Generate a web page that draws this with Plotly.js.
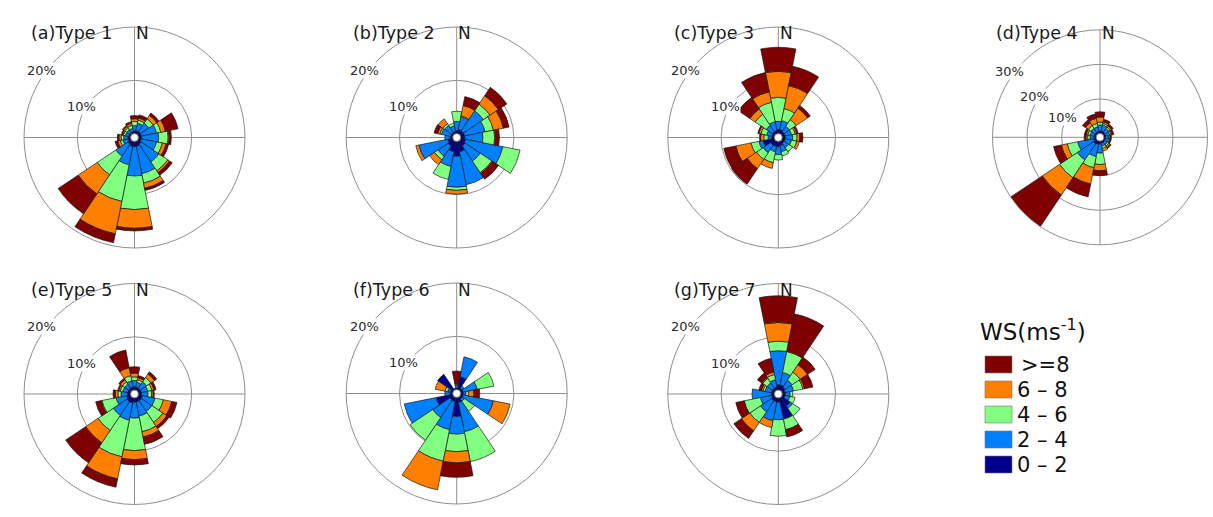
<!DOCTYPE html>
<html><head><meta charset="utf-8">
<script src="https://cdn.plot.ly/plotly-3.0.1.min.js"></script>
<style>html,body{margin:0;padding:0;background:#fff;overflow:hidden;}</style>
</head><body>
<div id="chart" style="width:1213px;height:517px;"></div>
<script>
// ---------------- DATA ----------------
const directions = ["N","NNE","NE","ENE","E","ESE","SE","SSE","S","SSW","SW","WSW","W","WNW","NW","NNW"];
const speedClasses = ["0 – 2","2 – 4","4 – 6","6 – 8",">=8"];
const panelTitles = ["(a)Type 1","(b)Type 2","(c)Type 3","(d)Type 4","(e)Type 5","(f)Type 6","(g)Type 7"];
const legendTitle = "WS(ms<sup>-1</sup>)";

// Cumulative frequency (%) at the top of each speed class, one row per direction
// columns: 0-2, 2-4, 4-6, 6-8, >=8
const type1Cum = [
  [0.5,1.5,2.3,2.8,3.4],[0.5,2.0,2.6,3.0,3.6],[0.6,2.5,3.5,4.3,4.8],[0.6,3.5,4.3,5.2,7.6],
  [0.6,3.8,5.6,5.8,6.2],[0.6,3.5,4.6,5.3,5.8],[0.8,4.8,6.8,7.2,7.8],[1.0,6.2,8.0,9.0,9.4],
  [1.0,6.5,12.8,16.3,16.8],[1.0,4.5,11.5,17.7,19.4],[0.8,3.5,7.7,12.0,16.5],[0.5,1.5,2.0,2.5,3.0],
  [0.5,1.3,1.8,2.2,2.5],[0.4,1.0,1.4,1.6,1.8],[0.4,1.0,1.5,1.8,2.0],[0.4,1.0,1.6,2.0,2.3]];
const type2Cum = [
  [0.6,2.3,4.2,4.2,4.2],[0.8,3.2,3.4,5.4,7.1],[0.8,5.3,6.8,8.7,10.6],[0.8,4.7,6.3,8.2,9.3],
  [0.8,4.2,6.4,6.6,7.3],[1.0,8.1,11.4,11.4,11.4],[1.2,4.6,7.2,7.4,8.7],[2.0,8.3,8.3,8.3,8.3],
  [2.8,8.6,9.2,9.9,9.9],[2.0,4.8,7.3,7.3,7.3],[1.2,3.5,4.3,5.4,5.4],[1.0,6.5,6.5,7.1,7.1],
  [0.5,1.5,1.5,1.5,1.5],[0.4,2.2,2.5,2.9,3.6],[0.4,2.0,2.4,3.5,3.5],[0.4,1.5,2.0,2.0,2.0]];
const type3Cum = [
  [0.8,2.3,6.8,11.7,16.2],[0.8,2.5,4.8,9.2,12.9],[0.6,1.8,3.3,5.9,6.5],[0.6,1.8,2.5,2.8,3.1],
  [0.6,2.0,2.8,3.3,3.9],[0.6,1.8,2.8,3.3,3.3],[0.6,1.6,2.5,2.5,2.5],[0.8,2.0,2.8,2.8,2.8],
  [1.0,2.5,3.5,3.5,3.5],[1.0,2.0,4.1,5.2,5.2],[1.0,2.7,4.2,6.3,9.8],[2.2,3.0,4.5,7.4,9.7],
  [0.5,1.2,2.0,2.6,2.8],[0.5,1.5,2.6,3.0,3.2],[0.6,2.0,4.5,5.7,8.3],[0.6,2.3,6.0,8.0,11.7]];
const type4Cum = [
  [0.8,2.5,3.3,4.8,6.3],[0.8,2.5,3.0,3.5,4.2],[0.6,2.0,2.5,3.0,3.5],[0.6,1.8,2.2,2.5,3.0],
  [0.5,1.5,1.8,2.0,2.2],[0.5,1.5,1.8,2.0,2.2],[0.6,1.5,2.0,2.5,2.8],[0.6,1.5,2.2,3.0,3.0],
  [0.8,3.5,6.8,8.6,10.0],[1.0,4.6,7.9,12.7,16.5],[1.2,6.8,13.0,19.0,30.0],[0.8,5.5,8.6,10.3,12.6],
  [0.6,1.8,2.5,3.0,3.5],[0.6,1.8,2.5,3.0,3.5],[0.6,2.0,3.0,4.0,5.0],[0.6,2.0,3.0,4.5,5.8]];
const type5Cum = [
  [0.6,1.8,2.5,3.2,4.4],[0.6,1.5,2.0,2.4,2.8],[0.6,2.0,3.0,3.8,4.3],[0.6,1.8,2.6,3.0,3.4],
  [0.6,1.8,2.5,2.8,3.0],[0.8,3.2,4.8,6.4,7.4],[0.8,3.2,5.7,6.6,7.1],[0.8,3.5,6.5,7.5,8.9],
  [0.8,3.8,9.9,11.6,12.6],[1.0,4.3,11.3,15.5,17.1],[1.0,4.1,7.5,10.3,14.8],[0.8,2.8,5.5,5.7,6.7],
  [0.6,1.8,2.4,2.9,3.3],[0.6,1.5,2.0,2.3,2.5],[0.6,1.5,2.0,2.5,2.8],[0.6,1.8,2.8,4.3,7.7]];
const type6Cum = [
  [0.3,0.8,1.0,1.2,3.5],[2.5,6.3,6.3,6.3,6.3],[0.5,1.0,1.0,1.0,1.0],[0.5,3.2,6.4,6.4,6.4],
  [0.5,1.0,1.5,2.5,3.6],[0.5,6.3,6.3,9.5,9.5],[0.5,1.0,3.3,3.3,3.3],[1.0,6.6,12.3,12.3,12.3],
  [3.6,6.9,10.2,12.3,15.0],[0.8,6.2,12.2,17.7,17.7],[0.8,4.7,9.8,9.8,9.8],[3.2,9.3,9.3,9.3,9.3],
  [0.5,1.5,1.5,1.5,1.5],[0.5,1.0,1.5,3.4,3.4],[3.6,3.6,3.6,3.6,3.6],[0.3,0.3,0.3,0.3,0.3]];
const type7Cum = [
  [1.0,7.4,9.2,12.7,17.7],[1.0,3.4,7.4,7.4,14.6],[0.8,2.4,4.2,5.9,7.6],[0.6,2.2,4.0,4.3,5.9],
  [0.6,1.5,2.0,2.0,2.0],[0.6,1.5,2.5,2.5,2.5],[2.0,2.5,4.2,4.2,4.2],[4.0,4.1,6.1,6.1,7.5],
  [0.8,4.1,7.2,7.2,7.2],[0.8,4.4,4.4,5.7,5.7],[0.8,3.3,5.7,7.6,9.3],[0.6,2.7,5.8,5.8,7.4],
  [0.6,4.2,4.2,4.2,4.2],[0.6,1.8,2.2,2.5,3.0],[0.6,1.8,2.8,3.0,4.0],[0.6,2.0,3.0,3.5,6.1]];
const typeData = [type1Cum,type2Cum,type3Cum,type4Cum,type5Cum,type6Cum,type7Cum];
const radialMax = [20,20,20,30,20,20,20];
const radialTicks = [[10,20],[10,20],[10,20],[10,20,30],[10,20],[10,20],[10,20]];

// ---------------- STYLE / LAYOUT ----------------
const W = 1213, H = 517;
const speedColors = ["#00008b","#0080ff","#80ff80","#ff8000","#7f0000"];
const panelPos = [
  {cx:134.5,cy:137.5,R:110.5},{cx:456.7,cy:137.5,R:110.5},{cx:778.3,cy:137.5,R:110.5},
  {cx:1100,cy:137.3,R:107.5},
  {cx:134.5,cy:394,R:110.5},{cx:456.7,cy:393.5,R:110.5},{cx:778.3,cy:394,R:110.5}];
const HOLE = 0.035;
const gridCol = "#8f8f8f";
const FONT = "DejaVu Sans";

const dirAngle = directions.map((d,i)=> i*360/directions.length);
const traces = [];
const layout = {
  width:W, height:H, margin:{l:0,r:0,t:0,b:0}, paper_bgcolor:"#fff",
  showlegend:false, annotations:[], shapes:[]
};
const px = x => x/W, py = y => 1 - y/H;

typeData.forEach((cum,k)=>{
  const key = k===0 ? "polar" : "polar"+(k+1);
  const p = panelPos[k];
  speedClasses.forEach((cls,j)=>{
    traces.push({
      type:"barpolar", subplot:key, name:cls,
      theta:dirAngle,
      r:cum.map(row => +(row[j] - (j>0 ? row[j-1] : 0)).toFixed(3)),
      marker:{color:speedColors[j], line:{color:"#1a1a1a", width:0.7}},
      hoverinfo:"skip"
    });
  });
  layout[key] = {
    domain:{x:[px(p.cx-p.R), px(p.cx+p.R)], y:[py(p.cy+p.R), py(p.cy-p.R)]},
    bgcolor:"rgba(0,0,0,0)", hole:HOLE, bargap:0, barmode:"stack",
    angularaxis:{rotation:90, direction:"clockwise", tickmode:"linear", tick0:0, dtick:90,
      showticklabels:false, ticks:"", showgrid:true, gridcolor:gridCol, gridwidth:1,
      showline:true, linecolor:gridCol, linewidth:1},
    radialaxis:{range:[0,radialMax[k]], tickvals:radialTicks[k], showticklabels:false, ticks:"",
      showline:false, showgrid:true, gridcolor:gridCol, gridwidth:1}
  };
  // panel title and north marker
  layout.annotations.push({xref:"paper",yref:"paper",x:px(p.cx-106),y:py(p.cy-104),
    xanchor:"left",yanchor:"middle",showarrow:false,text:panelTitles[k],
    font:{family:FONT,size:17.5,color:"#1a1a1a"}});
  layout.annotations.push({xref:"paper",yref:"paper",x:px(p.cx-0.5),y:py(p.cy-104),
    xanchor:"left",yanchor:"middle",showarrow:false,text:"N",
    font:{family:FONT,size:17,color:"#1a1a1a"}});
  // radial percentage labels
  radialTicks[k].forEach(t=>{
    const frac = t/radialMax[k];
    const ang = (294 + 12*frac)*Math.PI/180;
    const rr = HOLE*p.R + (1-HOLE)*p.R*frac + 4;
    layout.annotations.push({xref:"paper",yref:"paper",
      x:px(p.cx + rr*Math.sin(ang)), y:py(p.cy - rr*Math.cos(ang)),
      xanchor:"center",yanchor:"middle",showarrow:false,text:t+"%",
      bgcolor:"#fff",borderpad:0,
      font:{family:FONT,size:13,color:"#2a2a2a"}});
  });
});

// custom legend
layout.annotations.push({xref:"paper",yref:"paper",x:px(978),y:py(330),xanchor:"left",yanchor:"middle",
  showarrow:false,text:legendTitle,font:{family:FONT,size:23,color:"#111"}});
for (let j=speedClasses.length-1, row=0; j>=0; j--, row++){
  const yc = 364.5 + row*25;
  layout.shapes.push({type:"rect",xref:"paper",yref:"paper",x0:px(985),x1:px(1012),
    y0:py(yc+8.5),y1:py(yc-8.5),fillcolor:speedColors[j],line:{color:"#777",width:0.6}});
  layout.annotations.push({xref:"paper",yref:"paper",x:px(j===4?1019:1015),y:py(yc+0.5),
    xanchor:"left",yanchor:"middle",showarrow:false,text:speedClasses[j],
    font:{family:FONT,size:21,color:"#111"}});
}

Plotly.newPlot("chart", traces, layout, {displayModeBar:false, staticPlot:true});
</script>
</body></html>
